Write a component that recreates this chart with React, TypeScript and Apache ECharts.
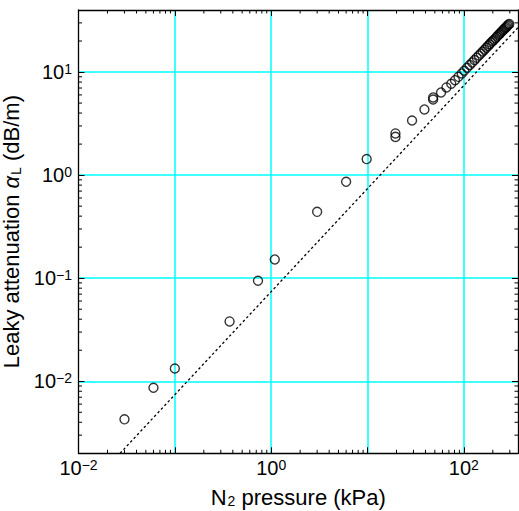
import React, { useEffect, useRef } from "react";
import * as echarts from "echarts";

// Measured N2 pressure (kPa) and leaky attenuation (dB/m)
const pressure = [
  0.03, 0.06, 0.1, 0.37, 0.73, 1.09, 3.0, 6.0, 9.8, 19.5, 19.5, 29, 39, 48, 48,
  58, 66, 74, 81, 88, 95, 101, 108, 115, 122, 129, 136, 143, 150, 157, 164, 171,
  178, 185, 192, 199, 206, 213, 220, 227, 234, 241, 248, 255, 262, 269, 276,
  283, 290, 296,
];
const attenuation = [
  0.00427, 0.00865, 0.0133, 0.0381, 0.0944, 0.152, 0.44, 0.861, 1.43, 2.54,
  2.35, 3.39, 4.34, 5.67, 5.42, 6.34, 7.1, 7.69, 8.34, 8.98, 9.69, 10.3, 11.0,
  11.7, 12.4, 13.1, 13.8, 14.5, 15.1, 15.8, 16.5, 17.2, 17.9, 18.6, 19.3, 20.0,
  20.6, 21.3, 22.0, 22.7, 23.4, 24.1, 24.7, 25.4, 26.1, 26.8, 27.4, 28.1, 28.8,
  29.3,
];

// Dotted reference line (end points)
const modelPressure = [0.027, 365];
const modelAttenuation = [0.002, 27.0];

// Axis ranges
const X_MIN = 0.01;
const X_MAX = 365;
const Y_MIN = 0.002;
const Y_MAX = 40;

// Minor tick positions
const xMinorTicks = [
  0.02, 0.03, 0.04, 0.05, 0.06, 0.07, 0.08, 0.09,
  0.2, 0.3, 0.4, 0.5, 0.6, 0.7, 0.8, 0.9,
  2, 3, 4, 5, 6, 7, 8, 9,
  20, 30, 40, 50, 60, 70, 80, 90,
  200, 300,
];
const yMinorTicks = [
  0.003, 0.004, 0.005, 0.006, 0.007, 0.008, 0.009,
  0.02, 0.03, 0.04, 0.05, 0.06, 0.07, 0.08, 0.09,
  0.2, 0.3, 0.4, 0.5, 0.6, 0.7, 0.8, 0.9,
  2, 3, 4, 5, 6, 7, 8, 9,
  20, 30,
];

const FONT = "'Liberation Sans', Arial, Helvetica, sans-serif";

const isPow10 = (v: number) =>
  Math.abs(Math.log10(v) - Math.round(Math.log10(v))) < 1e-6;

const expLabel = (v: number, onlyEven: boolean) => {
  if (!isPow10(v)) return "";
  const e = Math.round(Math.log10(v));
  if (onlyEven && e % 2 !== 0) return "";
  const s = e < 0 ? "\u2212" + -e : String(e);
  return `{b|10}{s|${s}}`;
};

const labelRich = {
  b: {
    fontSize: 20,
    fontFamily: FONT,
    color: "#000",
    lineHeight: 20,
    padding: [7, 0, 0, 0],
    verticalAlign: "bottom",
  },
  s: {
    fontSize: 14,
    fontFamily: FONT,
    color: "#000",
    lineHeight: 14,
    verticalAlign: "top",
  },
};

const nameRich = {
  t: {
    fontSize: 22,
    fontFamily: FONT,
    color: "#000",
    lineHeight: 22,
    verticalAlign: "top",
  },
  a: {
    fontSize: 22,
    fontFamily: FONT,
    fontStyle: "italic",
    color: "#000",
    lineHeight: 22,
    verticalAlign: "top",
  },
  l: {
    fontSize: 14,
    fontFamily: FONT,
    color: "#000",
    lineHeight: 15,
    padding: [10, 0, 0, 1],
    verticalAlign: "bottom",
  },
};

const GRID_COLOR = "#00ffff";

const gridSplit = {
  show: true,
  showMinLine: false,
  showMaxLine: false,
  lineStyle: { color: GRID_COLOR, width: 1.5, type: "solid" },
};

export default function App() {
  const ref = useRef<HTMLDivElement>(null);

  useEffect(() => {
    if (!ref.current) return;
    const chart = echarts.init(ref.current, null, { renderer: "svg" });

    const minorTickSeriesX = {
      type: "custom",
      xAxisIndex: 0,
      yAxisIndex: 0,
      silent: true,
      clip: false,
      z: 5,
      data: xMinorTicks.map((v) => [v, Y_MIN]),
      renderItem: (params: any, api: any) => {
        const cs = params.coordSys;
        const x = api.coord([api.value(0), Y_MIN])[0];
        const top = cs.y;
        const bottom = cs.y + cs.height;
        return {
          type: "group",
          children: [
            {
              type: "line",
              shape: { x1: x, y1: bottom, x2: x, y2: bottom - 3.5 },
              style: { stroke: "#000", lineWidth: 1 },
            },
            {
              type: "line",
              shape: { x1: x, y1: top, x2: x, y2: top + 3.5 },
              style: { stroke: "#000", lineWidth: 1 },
            },
          ],
        };
      },
    };

    const minorTickSeriesY = {
      type: "custom",
      xAxisIndex: 0,
      yAxisIndex: 0,
      silent: true,
      clip: false,
      z: 5,
      data: yMinorTicks.map((v) => [X_MIN, v]),
      renderItem: (params: any, api: any) => {
        const cs = params.coordSys;
        const y = api.coord([X_MIN, api.value(1)])[1];
        const left = cs.x;
        const right = cs.x + cs.width;
        return {
          type: "group",
          children: [
            {
              type: "line",
              shape: { x1: left, y1: y, x2: left + 3.5, y2: y },
              style: { stroke: "#000", lineWidth: 1 },
            },
            {
              type: "line",
              shape: { x1: right, y1: y, x2: right - 3.5, y2: y },
              style: { stroke: "#000", lineWidth: 1 },
            },
          ],
        };
      },
    };

    const axisCommon = {
      type: "log",
      logBase: 10,
      axisLine: { show: true, onZero: false, lineStyle: { color: "#000", width: 1.3 } },
      axisTick: { show: true, inside: true, length: 6, lineStyle: { color: "#000", width: 1 } },
      minorTick: { show: false },
      minorSplitLine: { show: false },
      splitArea: { show: false },
    };

    chart.setOption({
      animation: false,
      backgroundColor: "#fff",
      grid: {
        left: 78.5,
        right: 1,
        top: 10,
        bottom: 57.7,
        containLabel: false,
        outerBoundsMode: "none",
      },
      xAxis: [
        {
          ...axisCommon,
          position: "bottom",
          min: X_MIN,
          max: X_MAX,
          name: "{t|N}{l|2}{t| pressure (kPa)}",
          nameLocation: "middle",
          nameGap: 33,
          nameTextStyle: { rich: nameRich },
          axisLabel: {
            margin: 5,
            formatter: (v: number) => expLabel(v, true),
            rich: labelRich,
          },
          splitLine: gridSplit,
        },
        {
          ...axisCommon,
          position: "top",
          min: X_MIN,
          max: X_MAX,
          axisLabel: { show: false },
          splitLine: { show: false },
        },
      ],
      yAxis: [
        {
          ...axisCommon,
          position: "left",
          min: Y_MIN,
          max: Y_MAX,
          name: "{t|Leaky attenuation }{a|\u03b1}{l|L}{t| (dB/m)}",
          nameLocation: "middle",
          nameGap: 40,
          nameTextStyle: { rich: nameRich },
          axisLabel: {
            margin: 6.5,
            formatter: (v: number) => expLabel(v, false),
            rich: labelRich,
          },
          splitLine: gridSplit,
        },
        {
          ...axisCommon,
          position: "right",
          min: Y_MIN,
          max: Y_MAX,
          axisLabel: { show: false },
          splitLine: { show: false },
        },
      ],
      series: [
        {
          type: "line",
          xAxisIndex: 0,
          yAxisIndex: 0,
          data: modelPressure.map((p, i) => [p, modelAttenuation[i]]),
          showSymbol: false,
          symbol: "none",
          lineStyle: { color: "#000", width: 1.3, type: [2.5, 2.5] },
          z: 3,
        },
        {
          type: "scatter",
          xAxisIndex: 0,
          yAxisIndex: 0,
          data: pressure.map((p, i) => [p, attenuation[i]]),
          symbol: "circle",
          symbolSize: 9,
          itemStyle: { color: "rgba(0,0,0,0)", borderColor: "#000", borderWidth: 1.4 },
          z: 4,
        },
        minorTickSeriesX,
        minorTickSeriesY,
      ],
    });

    return () => chart.dispose();
  }, []);

  return (
    <div
      ref={ref}
      style={{ position: "absolute", left: 0, top: 0, width: 519, height: 511, background: "#fff" }}
    />
  );
}
